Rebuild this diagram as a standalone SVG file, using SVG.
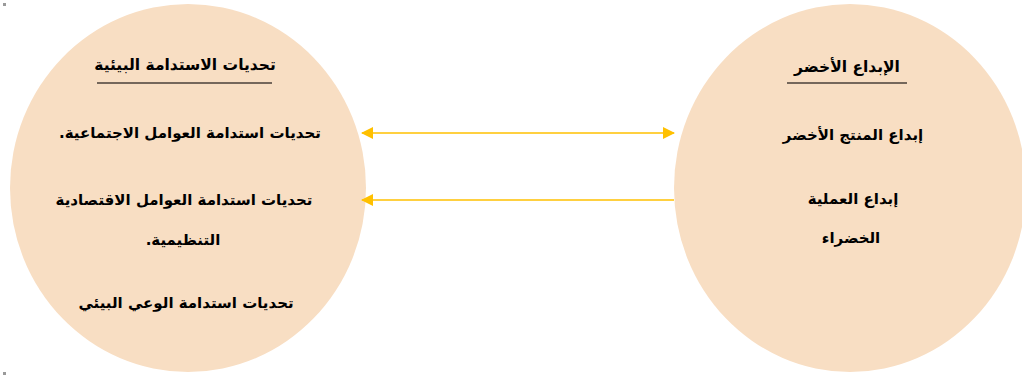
<svg xmlns="http://www.w3.org/2000/svg" width="1022" height="376" viewBox="0 0 1022 376">
  <style>
    .bubble { fill: #F8DEC3; }
    .t { font-family: "DejaVu Sans", sans-serif; font-weight: bold; fill: #000; text-anchor: middle; direction: rtl; unicode-bidi: embed; }
    .title { font-size: 15.5px; }
    .item { font-size: 15px; }
    .ul { stroke: #4A3F38; stroke-width: 1.5; }
    .conn { stroke: #FFC000; stroke-width: 1.6; fill: none; }
  </style>
  <defs>
    <marker id="ah" viewBox="0 0 12 12" refX="11" refY="6" markerWidth="12" markerHeight="12" markerUnits="userSpaceOnUse" orient="auto-start-reverse">
      <path d="M0,0 L12,6 L0,12 z" fill="#FFC000"/>
    </marker>
  </defs>
  <rect width="1022" height="376" fill="#FFFFFF"/>
  <rect x="3" y="3" width="3" height="3" fill="#9A9A9A"/>
  <rect x="3" y="372" width="3" height="3" fill="#9A9A9A"/>

  <g id="node-challenges">
    <ellipse class="bubble" cx="188" cy="188" rx="178" ry="184"/>
    <text class="t title" x="185" y="70">تحديات الاستدامة البيئية</text>
    <line class="ul" x1="97" y1="83" x2="272" y2="83"/>
    <text class="t item" x="190" y="138">تحديات استدامة العوامل الاجتماعية.</text>
    <text class="t item" x="184" y="205">تحديات استدامة العوامل الاقتصادية</text>
    <text class="t item" x="183" y="245">التنظيمية.</text>
    <text class="t item" x="186" y="308">تحديات استدامة الوعي البيئي</text>
  </g>

  <g id="node-green-innovation">
    <ellipse class="bubble" cx="850" cy="188" rx="176" ry="184"/>
    <text class="t title" x="847" y="72">الإبداع الأخضر</text>
    <line class="ul" x1="787" y1="83" x2="907" y2="83"/>
    <text class="t item" x="853" y="140">إبداع المنتج الأخضر</text>
    <text class="t item" x="853" y="204">إبداع العملية</text>
    <text class="t item" x="851" y="243">الخضراء</text>
  </g>

  <g id="connectors">
    <line class="conn" x1="362" y1="133" x2="674" y2="133" marker-start="url(#ah)" marker-end="url(#ah)"/>
    <line class="conn" x1="674" y1="200" x2="362" y2="200" marker-end="url(#ah)"/>
  </g>
</svg>
